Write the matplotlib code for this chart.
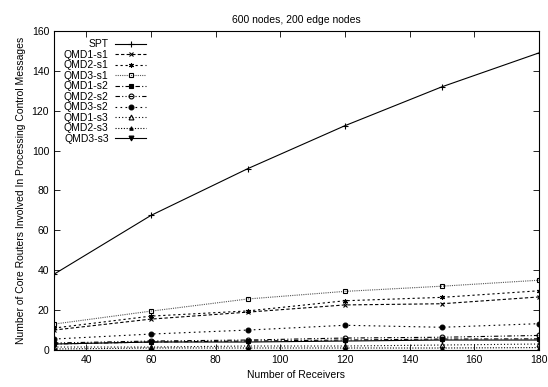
import matplotlib
matplotlib.use("Agg")
import matplotlib.pyplot as plt

plt.rcParams['font.family'] = ['Liberation Sans', 'DejaVu Sans']
plt.rcParams['font.size'] = 7.5

# Receivers on the x axis
receivers = [30, 60, 90, 120, 150, 180]

# Core routers involved
spt = [38, 67.5, 91, 112.5, 132, 149]
qmd1_s1 = [10, 15.5, 19, 22.6, 23.2, 26.6]
qmd2_s1 = [11, 17, 19.6, 24.7, 26.4, 29.7]
qmd3_s1 = [13, 19.5, 25.6, 29.4, 32, 35]
qmd1_s2 = [3, 4, 4.5, 5, 5.5, 5.6]
qmd2_s2 = [3.5, 4.5, 5, 6, 6.4, 7.3]
qmd3_s2 = [5.5, 8, 10, 12.4, 11.4, 13.2]
qmd1_s3 = [1.5, 1.5, 2, 2, 2.5, 3]
qmd2_s3 = [0.5, 1, 1, 1, 1, 1.2]
qmd3_s3 = [3, 4, 4, 4.5, 5, 5]

labels = ["SPT", "QMD1-s1", "QMD2-s1", "QMD3-s1", "QMD1-s2",
          "QMD2-s2", "QMD3-s2", "QMD1-s3", "QMD2-s3", "QMD3-s3"]
series = [spt, qmd1_s1, qmd2_s1, qmd3_s1, qmd1_s2,
          qmd2_s2, qmd3_s2, qmd1_s3, qmd2_s3, qmd3_s3]

# gnuplot-like styles: (linestyle, marker, markerfacecolor, colour)
styles = [
    ("-", "+", "black", "black"),
    ((0, (3, 2)), "x", "black", "black"),
    ((0, (2, 2.5)), (6, 2, 0), "black", "black"),
    ((0, (1, 1)), "s", "none", "#555555"),
    ((0, (4, 2, 1, 2)), "s", "black", "black"),
    ((0, (4, 2, 1, 2, 1, 2)), "o", "none", "black"),
    ((0, (1.5, 3)), "o", "black", "black"),
    ((0, (1, 2)), "^", "none", "black"),
    ((0, (1, 1.5)), "^", "black", "black"),
    ("-", "v", "black", "black"),
]

fig = plt.figure(figsize=(5.48, 3.87), dpi=100)
ax = fig.add_axes([0.0985, 0.0956, 0.885, 0.8244])

for lab, vals, (ls, mk, mfc, col) in zip(labels, series, styles):
    ms = 3.5 if mk != "+" else 5
    if lab == "QMD2-s3":
        ms = 2.5
    ax.plot(receivers, vals, linestyle=ls, marker=mk, color=col,
            markerfacecolor=mfc, markeredgecolor="black", markersize=ms,
            linewidth=0.8, markeredgewidth=0.8, label=lab)

ax.set_xlim(30, 180)
ax.set_ylim(0, 160)
ax.set_xticks(range(40, 181, 20))
ax.set_yticks(range(0, 161, 20))
ax.tick_params(direction="in", top=True, right=True, length=4, width=0.6)
for sp in ax.spines.values():
    sp.set_linewidth(0.8)

ax.set_xlabel("Number of Receivers")
ax.set_ylabel("Number of Core Routers Involved In Processing Control Messages")
ax.set_title("600 nodes, 200 edge nodes", fontsize=7.5, pad=6)

leg = ax.legend(loc="upper left", markerfirst=False, frameon=False,
                handlelength=3.0, labelspacing=0.05, borderpad=0.3,
                handletextpad=0.6, bbox_to_anchor=(0.003, 1.0))

fig.savefig("out.png", dpi=100)
